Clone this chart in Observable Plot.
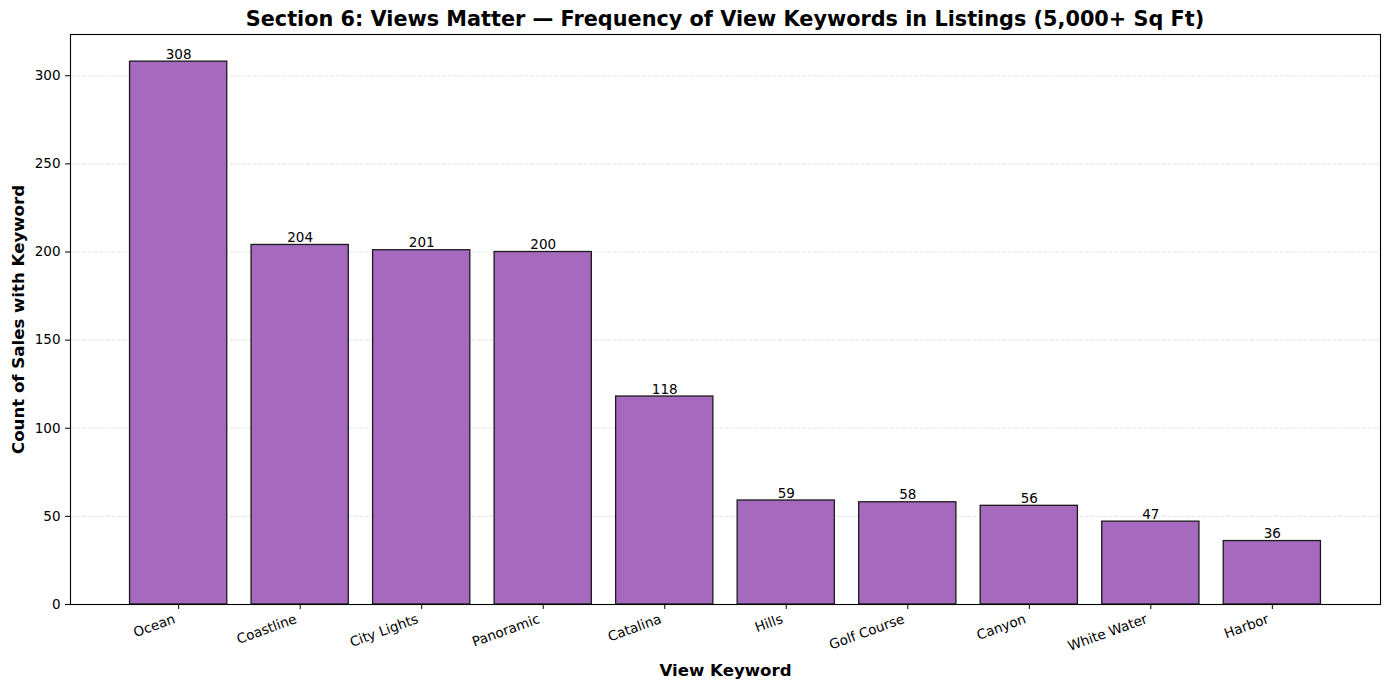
<!DOCTYPE html>
<html>
<head>
<meta charset="utf-8">
<script src="https://cdn.jsdelivr.net/npm/d3@7"></script>
<script src="https://cdn.jsdelivr.net/npm/@observablehq/plot@0.6"></script>
<style>
  html, body { margin: 0; padding: 0; background: #fff; }
  body { width: 1389px; height: 690px; overflow: hidden; font-family: "DejaVu Sans", sans-serif; }
  #title { box-sizing: border-box; width: 1389px; height: 30px; padding: 6px 9px 0 70px; text-align: center;
           font-size: 20.8px; font-weight: bold; line-height: 26px; color: #000; }
  svg { display: block; }
</style>
</head>
<body>
<div id="title">Section 6: Views Matter — Frequency of View Keywords in Listings (5,000+ Sq Ft)</div>
<div id="chart"></div>
<script>
const keywords = ["Ocean", "Coastline", "City Lights", "Panoramic", "Catalina", "Hills", "Golf Course", "Canyon", "White Water", "Harbor"];
const counts = [308, 204, 201, 200, 118, 59, 58, 56, 47, 36];
const yTicks = [0, 50, 100, 150, 200, 250, 300];

const data = keywords.map((k, i) => ({keyword: k, count: counts[i]}));

const chart = Plot.plot({
  width: 1389,
  height: 660,
  marginTop: 4,
  marginBottom: 86,
  marginLeft: 70,
  marginRight: 9,
  style: {fontFamily: "DejaVu Sans, sans-serif", fontSize: "13.5px", color: "#000", background: "#fff"},
  x: {domain: keywords, paddingInner: 0.2, paddingOuter: 0.49, align: 0.5, round: false, label: null},
  y: {domain: [0, 323.4], label: null},
  marks: [
    Plot.gridY(yTicks, {stroke: "#b0b0b0", strokeOpacity: 0.3, strokeDasharray: "4.1,1.8", strokeWidth: 1.1}),
    Plot.barY(data, {x: "keyword", y: "count", fill: "#a56abd", stroke: "#1a1a1a", strokeWidth: 1.3}),
    Plot.text(data, {x: "keyword", y: "count", text: d => String(d.count), lineAnchor: "bottom", dy: -3, fontSize: 13.5, fill: "#000"}),
    Plot.axisY({ticks: yTicks, tickSize: 5, tickPadding: 5, label: null, fontSize: 13.5}),
    Plot.axisX({tickSize: 5, tickFormat: () => "", label: null}),
    Plot.axisX({tickRotate: -20, tickSize: 0, tickPadding: 14, dx: -4, label: null, fontSize: 13.5}),
    Plot.frame({stroke: "#000", strokeWidth: 1.1}),
    Plot.text(["Count of Sales with Keyword"], {frameAnchor: "left", textAnchor: "middle", rotate: -90, dx: -52, fontSize: 16.6, fontWeight: "bold", fill: "#000"}),
    Plot.text(["View Keyword"], {frameAnchor: "bottom", textAnchor: "middle", lineAnchor: "middle", dy: 66, fontSize: 16.6, fontWeight: "bold", fill: "#000"})
  ]
});
document.getElementById("chart").appendChild(chart);
</script>
</body>
</html>
